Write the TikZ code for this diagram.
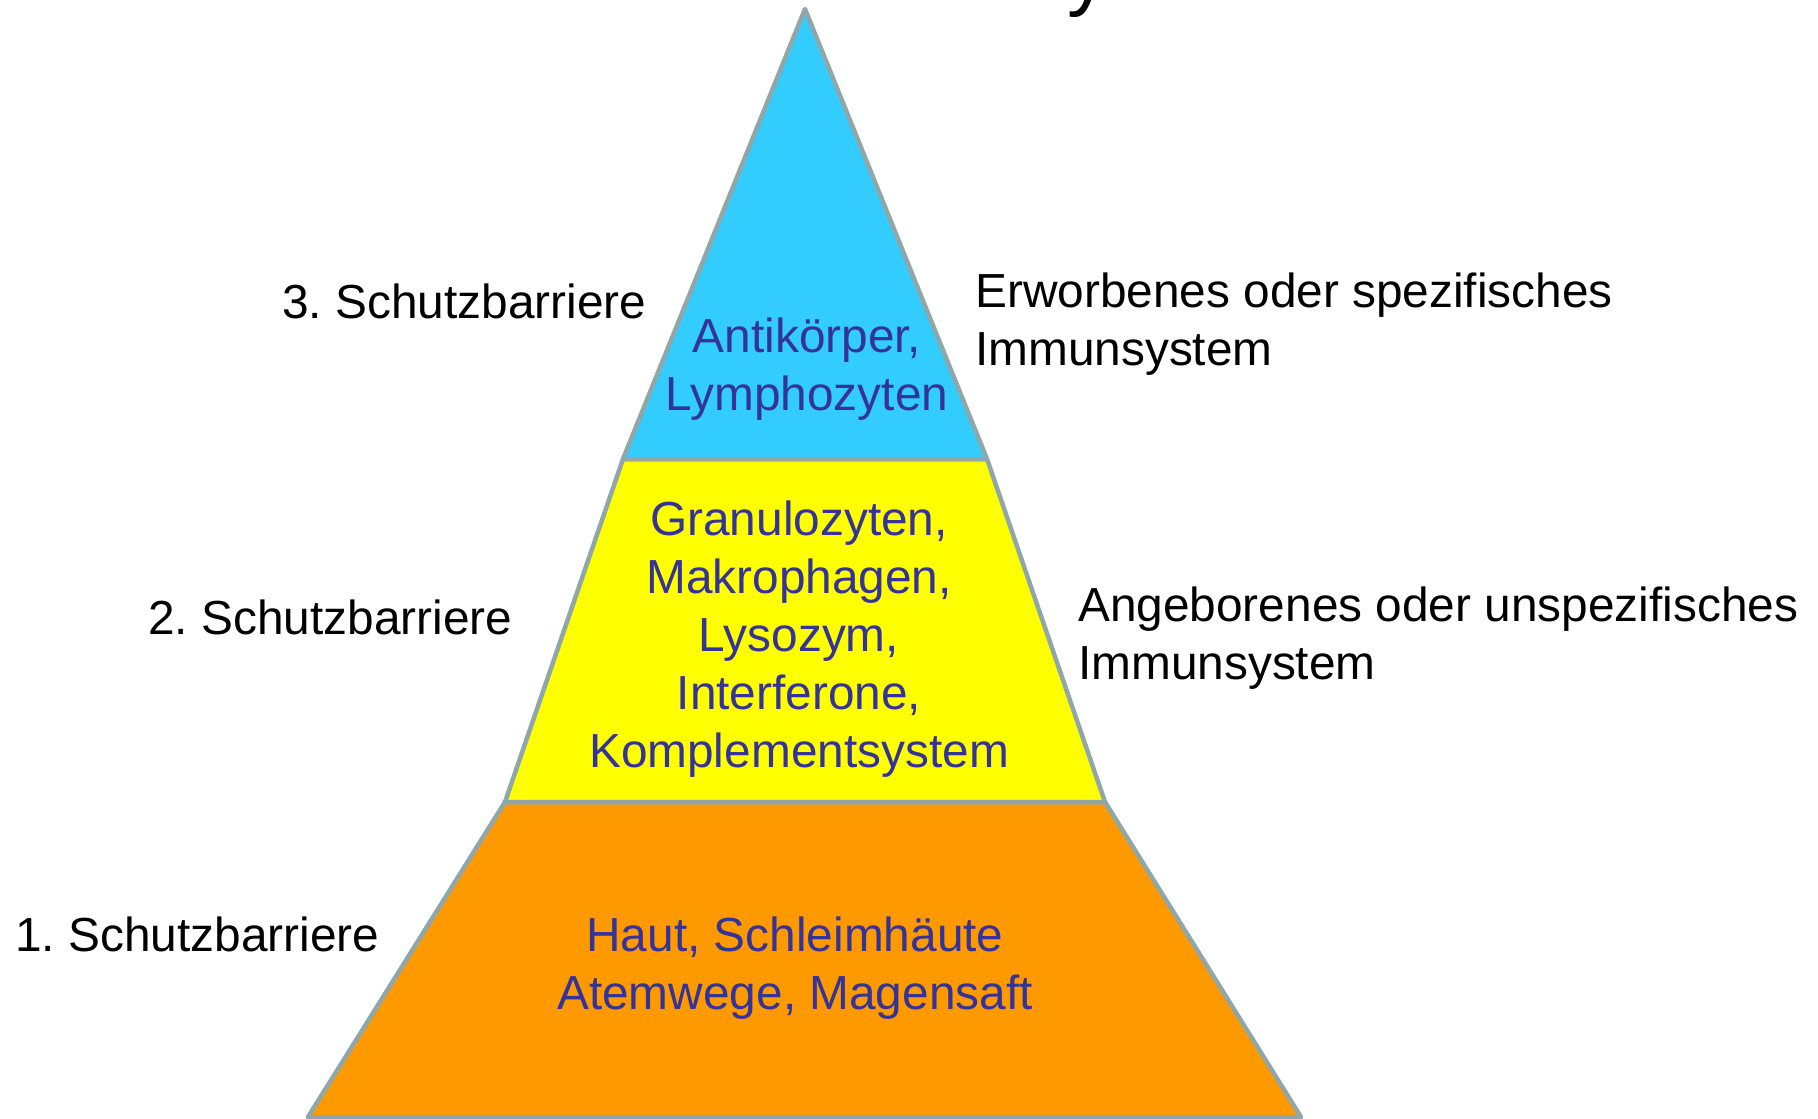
\documentclass[tikz,border=0pt]{standalone}
\usepackage{fontspec}
\setmainfont{Liberation Sans}
\definecolor{rand}{HTML}{8FA7A9}
\definecolor{blau}{HTML}{33CCFF}
\definecolor{gelb}{HTML}{FFFF00}
\definecolor{orangefarben}{HTML}{FF9900}
\definecolor{schrift}{HTML}{333399}
\tikzset{
  stufe/.style={draw=rand, line width=4.5pt, line join=round},
  inhalt/.style={text=schrift, align=center, inner sep=0pt, font=\fontsize{47.8}{58}\selectfont\frenchspacing},
  beschr/.style={align=left, inner sep=0pt, anchor=west, font=\fontsize{47.8}{58}\selectfont\frenchspacing},
}

\begin{document}
\begin{tikzpicture}[x=1pt, y=-1pt]
	\useasboundingbox (0,0) rectangle (1818,1119);
	\coordinate (spitze) at (805, 9);
	\coordinate (o_l) at (623, 459);
	\coordinate (o_r) at (987, 459);
	\coordinate (m_l) at (505, 802);
	\coordinate (m_r) at (1105, 802);
	\coordinate (u_l) at (308, 1117);
	\coordinate (u_r) at (1301, 1117);

	% titel (abgeschnitten)
	\node[font=\fontsize{82}{96}\selectfont, anchor=base, inner sep=0pt] (titel) at (1088, 0) {y};

	% stufen
	\filldraw[stufe, fill=orangefarben] (m_l) -- (m_r) -- (u_r) -- (u_l) -- cycle;
	\filldraw[stufe, fill=gelb] (o_l) -- (o_r) -- (m_r) -- (m_l) -- cycle;
	\filldraw[stufe, fill=blau] (spitze) -- (o_r) -- (o_l) -- cycle;

	% inhalt
	\node[inhalt] (spez) at (807, 369) {Antikörper,\\Lymphozyten};
	\node[inhalt] (unspez) at (799, 639) {Granulozyten,\\Makrophagen,\\Lysozym,\\Interferone,\\Komplementsystem};
	\node[inhalt] (haut) at (795, 968) {Haut, Schleimhäute\\Atemwege, Magensaft};

	% beschriftung
	\node[beschr] (b3) at (282, 301) {3. Schutzbarriere};
	\node[beschr] (b2) at (148, 617) {2. Schutzbarriere};
	\node[beschr] (b1) at (15, 934) {1. Schutzbarriere};
	\node[beschr] (erw) at (975, 324) {Erworbenes oder spezifisches\\Immunsystem};
	\node[beschr] (ang) at (1078, 638) {Angeborenes oder unspezifisches\\Immunsystem};
\end{tikzpicture}
\end{document}
